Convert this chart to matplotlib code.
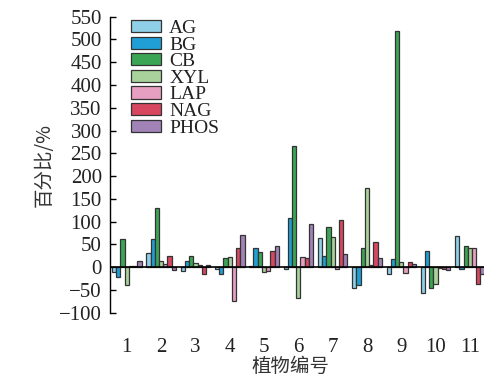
import matplotlib
matplotlib.use("Agg")
import matplotlib.pyplot as plt
import numpy as np

plants = ["1", "2", "3", "4", "5", "6", "7", "8", "9", "10", "11"]
series_names = ["AG", "BG", "CB", "XYL", "LAP", "NAG", "PHOS"]
AG   = [-10, 30, -9, -3, 3, -5, 64, -46, -15, -56, 68]
BG   = [-22, 62, 13, -15, 42, 108, 25, -40, 17, 36, -5]
CB   = [61, 130, 24, 21, 33, 266, 88, 43, 518, -45, 47]
XYL  = [-40, 13, 9, 23, -10, -67, 67, 173, 11, -37, 41]
LAP  = [2, 7, 4, -74, -8, 23, -3, 5, -12, -2, 43]
NAG  = [2, 25, -16, 42, 35, 19, 103, 55, 11, -3, -37]
PHOS = [13, -6, 5, 70, 47, 94, 29, 19, 7, -6, -16]
colors = ["#8fd0e8", "#1f9fd5", "#3aa655", "#a9d19c", "#e69fc0", "#d7475f", "#a283b8"]
yticks = [-100, -50, 0, 50, 100, 150, 200, 250, 300, 350, 400, 450, 500, 550]

data = [AG, BG, CB, XYL, LAP, NAG, PHOS]

fig = plt.figure(figsize=(4.85, 3.79), dpi=100)
ax = fig.add_axes([0.227, 0.175, 0.773, 0.781])

x = np.arange(1, len(plants) + 1)
w = 0.123
for i, (name, vals) in enumerate(zip(series_names, data)):
    ax.bar(x + (i - 3) * w, vals, width=w, color=colors[i], edgecolor="#333333",
           linewidth=0.9, label=name, zorder=2)

ax.axhline(0, color="black", linewidth=1.2, zorder=3)
ax.set_xlim(0.513, 11.44)
ax.set_ylim(-100, 550)
ax.set_yticks(yticks)
ax.set_yticklabels([str(t).replace("-", "\u2212") for t in yticks],
                   fontfamily="Liberation Serif", fontsize=15, color="#222222")
ax.set_xticks(x)
ax.set_xticklabels(plants, fontfamily="Liberation Serif", fontsize=15, color="#222222")
ax.tick_params(axis="x", length=0, pad=18.5)
ax.tick_params(axis="y", direction="in", length=4, width=1, pad=6)
for s in ["top", "right", "bottom"]:
    ax.spines[s].set_visible(False)
ax.spines["left"].set_linewidth(1)

cjk = ["Noto Sans CJK SC", "DejaVu Sans"]
ax.set_ylabel("百分比/%", fontfamily=cjk, fontsize=14, labelpad=3, color="#333333")
ax.set_xlabel("植物编号", fontfamily=cjk, fontsize=14, labelpad=1, color="#333333")
ax.xaxis.set_label_coords(0.48, -0.145)

leg = ax.legend(loc="upper left", bbox_to_anchor=(0.02, 1.035), frameon=False,
                prop={"family": "Liberation Serif", "size": 14},
                labelspacing=-0.02, handlelength=1.55, handleheight=0.58,
                handletextpad=0.4, borderpad=0.2)
for t in leg.get_texts():
    t.set_color("#222222")

fig.savefig("out.png", dpi=100)
